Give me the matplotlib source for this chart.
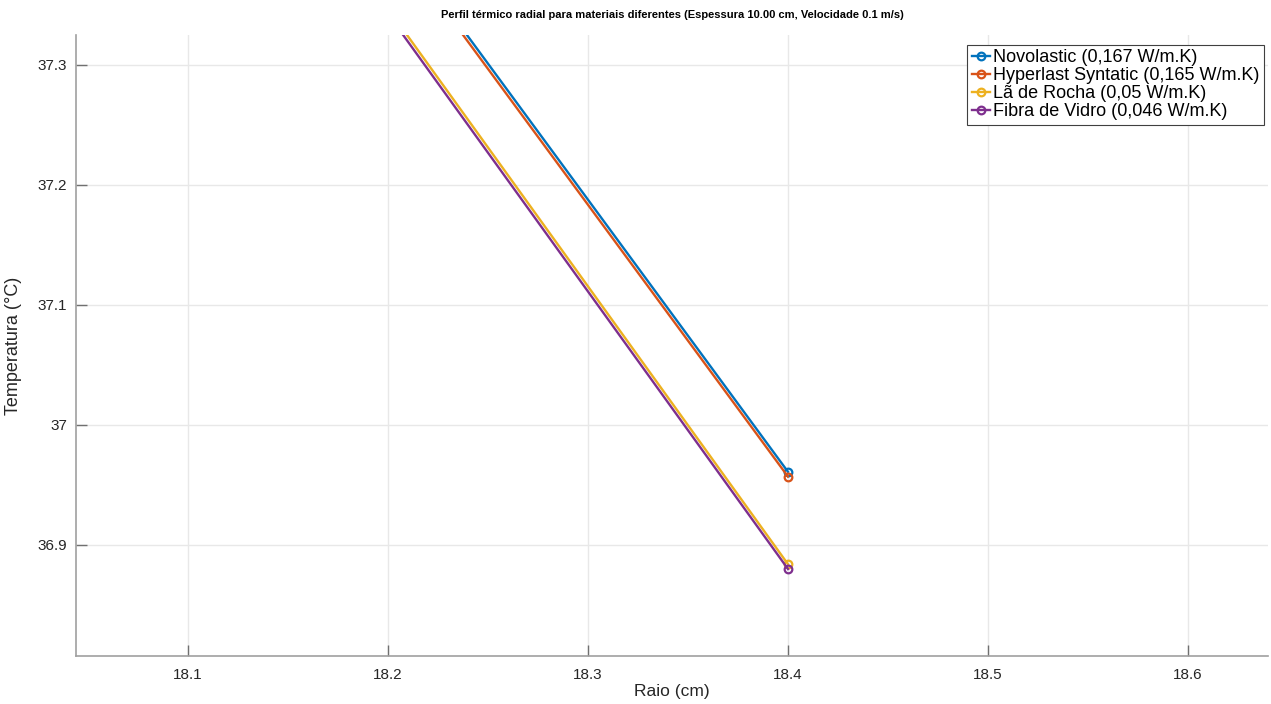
import matplotlib
matplotlib.use("Agg")
import matplotlib.pyplot as plt

plt.rcParams['font.family'] = ['Liberation Sans', 'DejaVu Sans']

# Raio (cm) e temperatura (°C); o primeiro ponto fica fora da janela
raio = [18.0, 18.4]
t_novolastic = [37.868, 36.961]
t_hyperlast = [37.863, 36.957]
t_la_rocha = [37.810, 36.884]
t_fibra_vidro = [37.805, 36.880]

nomes = ['Novolastic (0,167 W/m.K)',
         'Hyperlast Syntatic (0,165 W/m.K)',
         'Lã de Rocha (0,05 W/m.K)',
         'Fibra de Vidro (0,046 W/m.K)']
series = [t_novolastic, t_hyperlast, t_la_rocha, t_fibra_vidro]
cores = ['#0072BD', '#D95319', '#EDB120', '#7E2F8E']

x_ticks = [18.1, 18.2, 18.3, 18.4, 18.5, 18.6]
y_ticks = [36.9, 37.0, 37.1, 37.2, 37.3]
y_tick_labels = ['36.9', '37', '37.1', '37.2', '37.3']

fig = plt.figure(figsize=(12.71, 7.04), dpi=100)
ax = fig.add_axes([0.0598, 0.0682, 0.9378, 0.8821])

for nome, temp, cor in zip(nomes, series, cores):
    ax.plot(raio, temp, '-o', color=cor, linewidth=1.7, markersize=5.5,
            markerfacecolor='none', markeredgewidth=1.6, label=nome)

ax.set_xlim(18.044, 18.64)
ax.set_ylim(36.8075, 37.325)
ax.set_xticks(x_ticks)
ax.set_xticklabels([f'{v:.1f}' for v in x_ticks])
ax.set_yticks(y_ticks)
ax.set_yticklabels(y_tick_labels)

ax.grid(True, color='#e8e8e8', linewidth=1)
ax.set_axisbelow(True)
for lado in ['top', 'right']:
    ax.spines[lado].set_visible(False)
for lado in ['left', 'bottom']:
    ax.spines[lado].set_color('#a0a0a0')
    ax.spines[lado].set_linewidth(1.2)
ax.tick_params(direction='in', length=8, width=1, color='#707070',
               labelcolor='#262626', labelsize=11)
ax.tick_params(axis='x', pad=9)
ax.tick_params(axis='y', pad=6.5)

ax.set_xlabel('Raio (cm)', fontsize=12.5, color='#262626', labelpad=1)
ax.set_ylabel('Temperatura (°C)', fontsize=13, color='#262626')
ax.yaxis.set_label_coords(-0.045, 0.5)
ax.set_title('Perfil térmico radial para materiais diferentes (Espessura 10.00 cm, Velocidade 0.1 m/s)',
             fontsize=8, fontweight='bold', pad=12)

leg = ax.legend(loc='upper right', fontsize=13, handlelength=1.0, handletextpad=0.2,
                borderpad=0.25, labelspacing=0.05, borderaxespad=0.2,
                fancybox=False, framealpha=1, bbox_to_anchor=(1.0, 0.99))
leg.get_frame().set_edgecolor('#404040')
leg.get_frame().set_linewidth(0.8)

fig.savefig('out.png', dpi=100)
